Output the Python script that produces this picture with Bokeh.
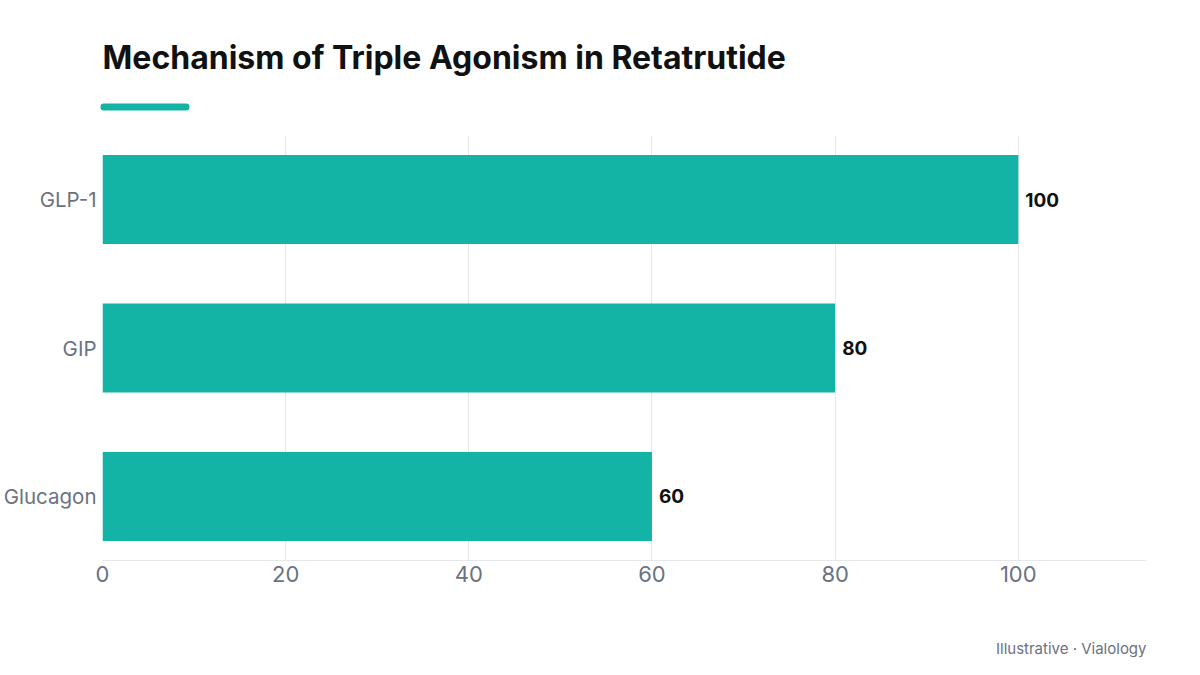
from bokeh.plotting import figure
from bokeh.models import ColumnDataSource, Range1d, FactorRange, FixedTicker, LabelSet, Title
from bokeh.core.properties import value
from bokeh.embed import file_html
from bokeh.resources import INLINE

categories = ["GLP-1", "GIP", "Glucagon"]
values = [100, 80, 60]
x_ticks = [0, 20, 40, 60, 80, 100]

TEAL = "#13b3a6"
GRAY = "#6b7280"
FONT = "Inter"

src = ColumnDataSource(dict(cat=categories, val=values, lab=[str(v) for v in values]))

yr = FactorRange(factors=categories[::-1], range_padding=-0.069, range_padding_units="absolute")
p = figure(width=1200, height=675, y_range=yr, x_range=Range1d(0, 114),
           output_backend="svg", toolbar_location=None, title=None,
           min_border_left=102, min_border_right=54, min_border_top=135, min_border_bottom=115)
p.outline_line_color = None
p.background_fill_color = "white"
p.border_fill_color = "white"

p.hbar(y="cat", right="val", left=0, height=0.6, source=src, color=TEAL, line_color=None)

labels = LabelSet(x="val", y="cat", text="lab", source=src, x_offset=7, y_offset=0,
                  text_baseline="middle", text_font=value(FONT), text_font_style="bold",
                  text_font_size="19px", text_color="#111111")
p.add_layout(labels)

p.xaxis.ticker = FixedTicker(ticks=x_ticks)
p.xaxis.axis_line_color = "#e5e7eb"
p.xaxis.major_tick_line_color = None
p.xaxis.minor_tick_line_color = None
p.xaxis.major_tick_out = 0
p.xaxis.major_tick_in = 0
p.xaxis.minor_tick_out = 0
p.xaxis.major_label_text_font = FONT
p.xaxis.major_label_text_font_size = "22px"
p.xaxis.major_label_text_color = GRAY
p.xaxis.major_label_standoff = 5
p.xaxis.axis_label = "\u00a0"
p.xaxis.axis_label_text_font = FONT
p.xaxis.axis_label_text_font_size = "15px"
p.xaxis.axis_label_standoff = 15

p.yaxis.axis_line_color = None
p.yaxis.major_tick_line_color = None
p.yaxis.minor_tick_line_color = None
p.yaxis.major_tick_out = 0
p.yaxis.major_tick_in = 0
p.yaxis.minor_tick_out = 0
p.yaxis.major_label_text_font = FONT
p.yaxis.major_label_text_font_size = "20.5px"
p.yaxis.major_label_text_color = GRAY
p.yaxis.major_label_standoff = 6

p.xgrid.grid_line_color = "#e5e7eb"
p.xgrid.ticker = FixedTicker(ticks=x_ticks)
p.ygrid.grid_line_color = None

underline = Title(text=" ", align="left", text_font=FONT, text_font_size="4px",
                  background_fill_color=TEAL, background_fill_alpha=1.0,
                  border_line_color=None, padding=(44, 1), border_radius=3,
                  standoff=50, offset=-2)
p.add_layout(underline, "above")

title = Title(text="Mechanism of Triple Agonism in Retatrutide", align="left",
              text_font=FONT, text_font_size="32px", text_font_style="bold",
              text_color="#111111", standoff=0)
p.add_layout(title, "above")

footer = Title(text="Illustrative · Vialology", align="right",
               text_font=FONT, text_font_size="15px", text_font_style="normal",
               text_color=GRAY, standoff=30)
p.add_layout(footer, "below")

open("out.html", "w").write(file_html(p, INLINE))
